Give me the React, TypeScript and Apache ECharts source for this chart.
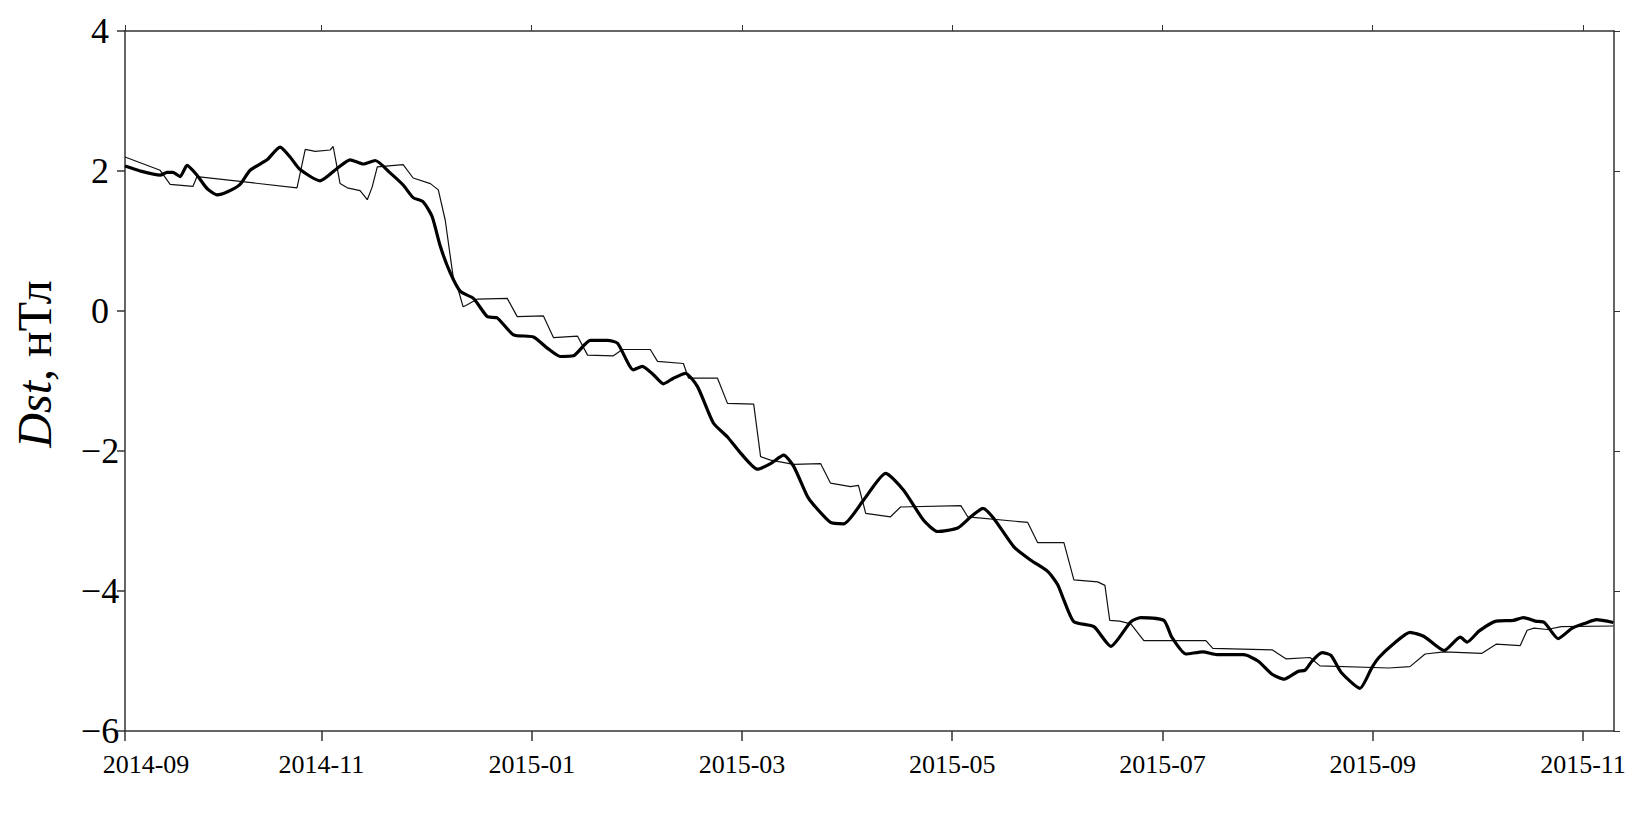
import React, { useEffect, useRef } from "react";
import * as echarts from "echarts";

// x values are day numbers counted from 2014-09-01 (axis spans day 4 .. 436)
const tickDays = [4, 61, 122, 183, 244, 305, 366, 427];
const tickLabels = ["2014-09", "2014-11", "2015-01", "2015-03", "2015-05", "2015-07", "2015-09", "2015-11"];
const yTicks = [-6, -4, -2, 0, 2, 4];

// thick line (Dst, observed smoothed)
const thickDays = [4.0, 8.4, 14.2, 16.2, 17.9, 20.0, 22.0, 24.9, 27.8, 30.7, 33.6, 37.4, 40.3, 45.2, 49.0, 51.9, 54.8, 60.6, 65.6, 69.3, 73.1, 76.6, 81.0, 84.7, 87.6, 90.5, 93.1, 95.5, 98.4, 101.3, 105.1, 109.1, 112.0, 116.7, 122.5, 126.5, 130.3, 134.1, 139.0, 144.0, 146.9, 151.5, 154.1, 157.3, 160.2, 163.1, 166.6, 170.1, 174.7, 178.8, 182.6, 187.5, 191.3, 195.1, 198.0, 202.0, 203.8, 208.7, 212.5, 218.3, 224.7, 229.9, 235.7, 239.8, 245.6, 249.4, 252.9, 256.0, 261.9, 266.8, 271.7, 274.6, 276.4, 279.3, 285.1, 290.0, 295.8, 298.7, 305.4, 307.7, 311.8, 316.7, 320.8, 328.6, 332.7, 336.8, 340.3, 344.3, 346.4, 348.4, 351.3, 353.9, 356.8, 362.3, 365.8, 367.8, 371.9, 376.8, 380.9, 386.7, 391.4, 393.4, 396.9, 401.8, 406.8, 409.7, 413.2, 415.8, 419.8, 423.9, 427.7, 430.9, 435.8];
const thickValues = [2.07, 2.0, 1.94, 1.98, 1.98, 1.92, 2.08, 1.94, 1.75, 1.66, 1.7, 1.81, 2.01, 2.16, 2.34, 2.2, 2.02, 1.86, 2.04, 2.16, 2.1, 2.15, 1.97, 1.8, 1.62, 1.56, 1.35, 0.92, 0.54, 0.28, 0.18, -0.08, -0.1, -0.34, -0.37, -0.53, -0.65, -0.64, -0.42, -0.42, -0.46, -0.84, -0.79, -0.91, -1.04, -0.96, -0.89, -1.08, -1.6, -1.8, -2.03, -2.26, -2.18, -2.06, -2.22, -2.65, -2.77, -3.02, -3.04, -2.7, -2.32, -2.56, -2.99, -3.15, -3.1, -2.94, -2.82, -2.96, -3.37, -3.56, -3.72, -3.91, -4.13, -4.44, -4.51, -4.79, -4.44, -4.38, -4.42, -4.66, -4.9, -4.87, -4.91, -4.91, -5.0, -5.19, -5.26, -5.15, -5.13, -5.0, -4.88, -4.92, -5.16, -5.39, -5.09, -4.95, -4.76, -4.59, -4.65, -4.85, -4.66, -4.73, -4.57, -4.43, -4.42, -4.38, -4.43, -4.45, -4.68, -4.53, -4.46, -4.41, -4.45];

// thin line (model, stepwise)
const thinDays = [4.0, 14.2, 17.1, 23.7, 24.9, 53.9, 56.3, 59.2, 63.5, 64.4, 66.4, 68.5, 72.2, 74.3, 75.7, 77.2, 84.7, 87.6, 92.6, 94.9, 96.9, 99.2, 100.7, 102.1, 103.3, 106.2, 114.9, 117.8, 125.4, 128.3, 135.3, 138.2, 145.7, 148.3, 156.4, 158.5, 166.0, 167.5, 175.9, 178.8, 186.4, 188.4, 191.3, 198.0, 205.8, 208.7, 214.5, 216.8, 218.9, 226.1, 229.0, 246.5, 248.5, 265.9, 268.8, 276.4, 279.3, 286.2, 288.3, 289.7, 292.6, 295.8, 299.6, 317.6, 319.6, 336.8, 340.9, 347.8, 350.7, 370.7, 376.8, 381.2, 386.7, 397.7, 401.8, 408.8, 410.8, 412.8, 416.6, 420.7, 435.8];
const thinValues = [2.2, 2.01, 1.81, 1.78, 1.92, 1.76, 2.31, 2.28, 2.3, 2.35, 1.82, 1.76, 1.72, 1.59, 1.77, 2.06, 2.09, 1.9, 1.82, 1.73, 1.3, 0.49, 0.3, 0.06, 0.09, 0.17, 0.18, -0.08, -0.07, -0.38, -0.36, -0.63, -0.64, -0.55, -0.55, -0.72, -0.75, -0.96, -0.96, -1.32, -1.33, -2.08, -2.13, -2.19, -2.18, -2.46, -2.51, -2.49, -2.89, -2.94, -2.8, -2.78, -2.94, -3.02, -3.31, -3.31, -3.84, -3.87, -3.92, -4.42, -4.43, -4.47, -4.71, -4.71, -4.82, -4.84, -4.97, -4.95, -5.07, -5.1, -5.08, -4.9, -4.87, -4.89, -4.76, -4.78, -4.56, -4.53, -4.55, -4.51, -4.5];

const FONT = "Liberation Serif";
const AXIS_COLOR = "#333";

export default function App() {
  const ref = useRef<HTMLDivElement>(null);
  useEffect(() => {
    if (!ref.current) return;
    const chart = echarts.init(ref.current, null, { renderer: "svg" });
    const labelFor = (v: number) => {
      const i = tickDays.indexOf(Math.round(v));
      if (i < 0) return "";
      return i === 0 ? "{first|" + tickLabels[i] + "}" : tickLabels[i];
    };
    chart.setOption({
      animation: false,
      backgroundColor: "#fff",
      grid: { left: 125, right: 26, top: 31, bottom: 95, containLabel: false },
      xAxis: [
        {
          type: "value",
          position: "bottom",
          min: 4,
          max: 436,
          splitLine: { show: false },
          axisLine: { show: true, onZero: false, lineStyle: { color: AXIS_COLOR, width: 1.5 } },
          axisTick: { show: true, inside: false, length: 10, customValues: tickDays, lineStyle: { color: AXIS_COLOR, width: 1.5 } },
          axisLabel: {
            customValues: tickDays,
            formatter: labelFor,
            margin: 20,
            color: "#000",
            fontFamily: FONT,
            fontSize: 26,
            rich: { first: { padding: [0, 0, 0, 42], fontFamily: FONT, fontSize: 26, color: "#000" } },
          },
        },
        {
          type: "value",
          position: "top",
          min: 4,
          max: 436,
          splitLine: { show: false },
          axisLine: { show: true, onZero: false, lineStyle: { color: AXIS_COLOR, width: 1.5 } },
          axisTick: { show: true, inside: false, length: 6, customValues: tickDays, lineStyle: { color: AXIS_COLOR, width: 1 } },
          axisLabel: { show: false },
        },
      ],
      yAxis: [
        {
          type: "value",
          position: "left",
          min: -6,
          max: 4,
          interval: 2,
          splitLine: { show: false },
          axisLine: { show: true, onZero: false, lineStyle: { color: AXIS_COLOR, width: 1.5 } },
          axisTick: { show: true, inside: false, length: 8, lineStyle: { color: AXIS_COLOR, width: 1.5 } },
          axisLabel: {
            margin: 25,
            align: "center",
            color: "#000",
            fontFamily: FONT,
            fontSize: 36,
            formatter: (v: number) => {
              const i = yTicks.indexOf(v);
              const n = i >= 0 ? yTicks[i] : v;
              return n < 0 ? "\u2212" + Math.abs(n) : String(n);
            },
          },
        },
        {
          type: "value",
          position: "right",
          min: -6,
          max: 4,
          interval: 2,
          splitLine: { show: false },
          axisLine: { show: true, onZero: false, lineStyle: { color: AXIS_COLOR, width: 1.5 } },
          axisTick: { show: true, inside: false, length: 6, lineStyle: { color: AXIS_COLOR, width: 1 } },
          axisLabel: { show: false },
        },
      ],
      graphic: [
        {
          type: "text",
          x: 34,
          y: 364,
          rotation: Math.PI / 2,
          style: {
            text: "{i|Dst}, нТл",
            fill: "#000",
            fontFamily: FONT,
            fontSize: 48,
            align: "center",
            verticalAlign: "middle",
            rich: {
              i: { fontStyle: "italic", fontFamily: FONT, fontSize: 48, fill: "#000" },
            },
          },
        },
      ],
      series: [
        {
          name: "thin",
          type: "line",
          xAxisIndex: 0,
          yAxisIndex: 0,
          data: thinDays.map((d, i) => [d, thinValues[i]]),
          showSymbol: false,
          lineStyle: { color: "#111", width: 1.2 },
          z: 2,
        },
        {
          name: "thick",
          type: "line",
          xAxisIndex: 0,
          yAxisIndex: 0,
          data: thickDays.map((d, i) => [d, thickValues[i]]),
          showSymbol: false,
          smooth: 0.2,
          lineStyle: { color: "#000", width: 3.2 },
          z: 3,
        },
      ],
    });
    return () => chart.dispose();
  }, []);
  return <div ref={ref} style={{ position: "fixed", left: 0, top: 0, width: 1640, height: 826 }} />;
}
